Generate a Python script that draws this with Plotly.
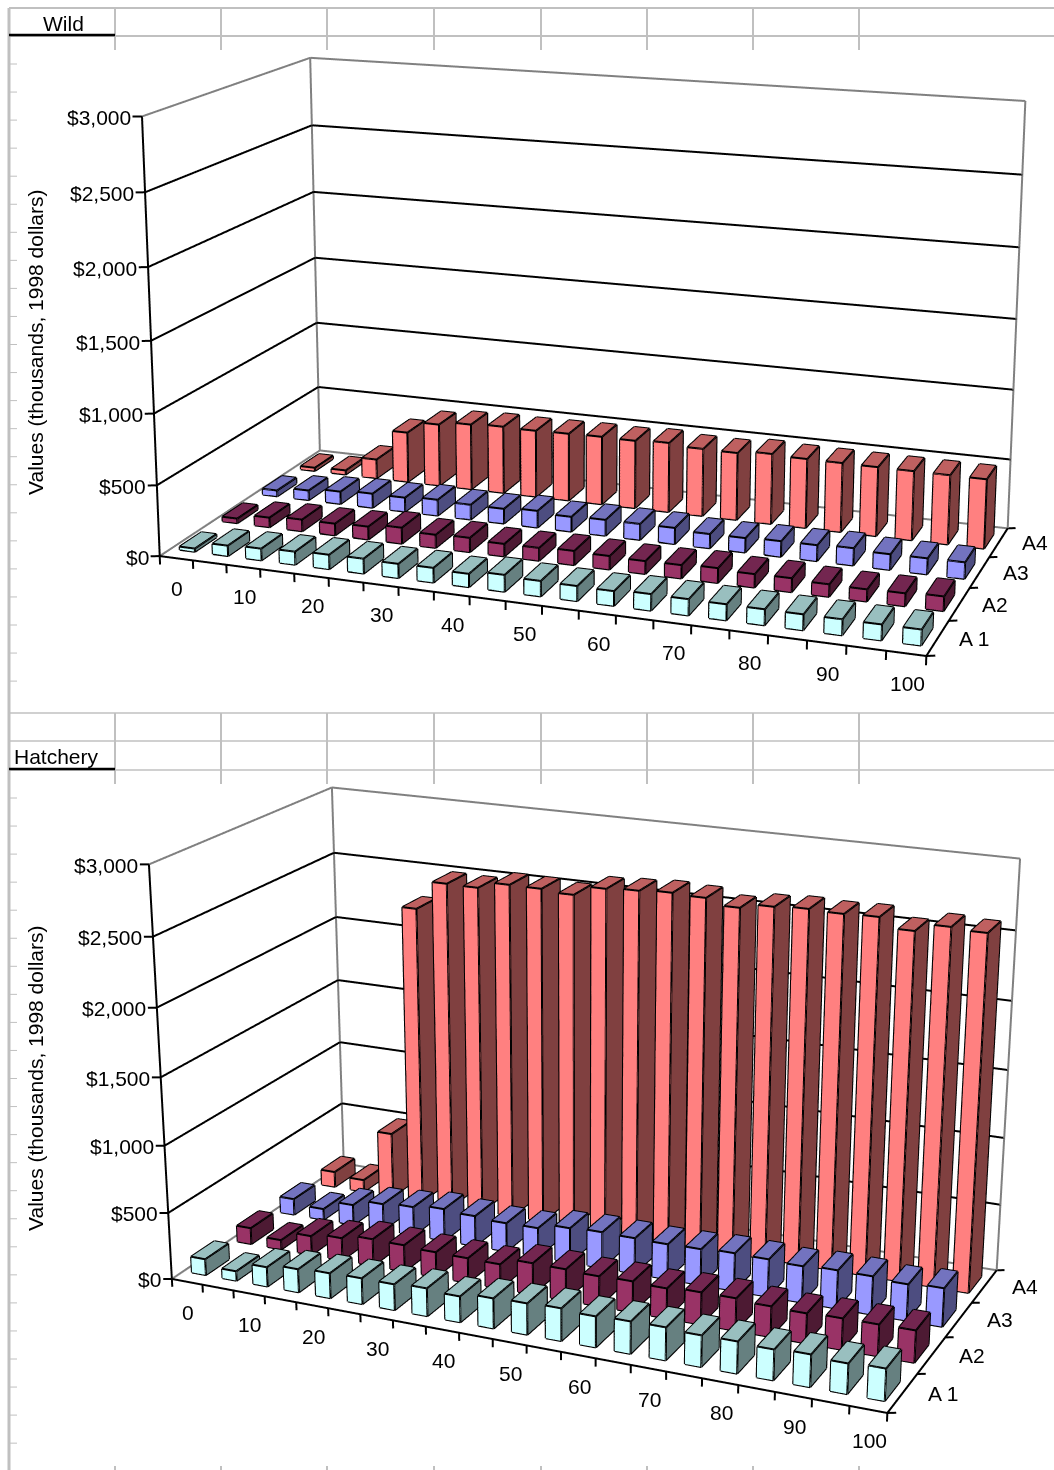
import numpy as np
import plotly.graph_objects as go

ages = list(range(0, 105, 5))
series = ["A1", "A2", "A3", "A4"]
z_ticks = [0, 500, 1000, 1500, 2000, 2500, 3000]
z_labels = ["$0", "$500", "$1,000", "$1,500", "$2,000", "$2,500", "$3,000"]
x_labels = ["0", "10", "20", "30", "40", "50", "60", "70", "80", "90", "100"]

wild_a1 = [23, 74, 83, 92, 101, 104, 99, 102, 92, 116, 106, 103, 100, 112, 110, 108, 107, 106, 106, 105, 105]
wild_a2 = [34, 70, 85, 85, 93, 115, 94, 102, 89, 91, 100, 95, 90, 93, 103, 93, 96, 86, 83, 88, 99]
wild_a3 = [44, 72, 92, 105, 104, 117, 109, 108, 122, 108, 115, 115, 116, 102, 103, 111, 113, 122, 110, 112, 115]
wild_a4 = [25, 32, 143, 375, 462, 488, 498, 494, 498, 502, 499, 510, 493, 490, 510, 501, 499, 497, 496, 495, 494]
hatch_a1 = [121, 72, 146, 174, 187, 193, 192, 206, 191, 221, 229, 238, 225, 234, 237, 226, 229, 219, 231, 215, 227]
hatch_a2 = [124, 72, 145, 171, 205, 201, 190, 187, 184, 235, 233, 224, 230, 222, 237, 238, 224, 218, 227, 229, 232]
hatch_a3 = [124, 85, 157, 205, 222, 247, 233, 219, 222, 263, 274, 270, 266, 271, 283, 280, 271, 284, 283, 268, 283]
hatch_a4 = [121, 94, 505, 2286, 2501, 2498, 2547, 2545, 2528, 2599, 2612, 2625, 2616, 2573, 2608, 2621, 2614, 2621, 2552, 2609, 2596]

wild = [wild_a1, wild_a2, wild_a3, wild_a4]
hatch = [hatch_a1, hatch_a2, hatch_a3, hatch_a4]
front_cols = ["#CCFFFF", "#993366", "#9999FF", "#FF8080"]
top_cols = ["#99BFBF", "#732650", "#7373BF", "#BF6060"]
side_cols = ["#668080", "#4D1A33", "#4D4D80", "#804040"]

W, H = 1054, 1470
OFFSET = 822
FIG_H = 3062
SCENE_H = 2240
SCENE_LEFT = 102

T = np.array([21.0, 4.0, 3000.0])
LO = np.array([-1.0, -0.5, -300.0])
HI = np.array([22.0, 4.5, 3100.0])

cam_wild = dict(eye=(2.104, -5.870, 1.663), center=(-0.181, 0.412, -0.036), up=0.001, aspect=(1.872, 0.896, 1.070))
cam_hatch = dict(eye=(1.610, -3.646, 1.359), center=(0.013, -0.060, -0.055), up=0.0, aspect=(1.191, 0.569, 0.679))


def py(y):
    return 1 - (y + OFFSET) / FIG_H


def scene_layout(cam, top):
    a = np.array(cam["aspect"])
    E, C = np.array(cam["eye"]), np.array(cam["center"])
    off = a * ((LO + HI) / (2 * T) - 0.5)
    a2 = a * (HI - LO) / T
    E2, C2 = E - off, C - off
    noax = dict(visible=False, showgrid=False, zeroline=False, showspikes=False)
    return dict(
        domain=dict(x=[SCENE_LEFT / W, 1], y=[py(top + SCENE_H), py(top)]),
        xaxis=dict(range=[LO[0], HI[0]], **noax),
        yaxis=dict(range=[LO[1], HI[1]], **noax),
        zaxis=dict(range=[LO[2], HI[2]], **noax),
        aspectmode="manual",
        aspectratio=dict(x=a2[0], y=a2[1], z=a2[2]),
        camera=dict(eye=dict(x=E2[0], y=E2[1], z=E2[2]),
                    center=dict(x=C2[0], y=C2[1], z=C2[2]),
                    up=dict(x=cam["up"], y=0, z=1),
                    projection=dict(type="perspective")),
        bgcolor="rgba(0,0,0,0)",
    )


def lines(segs, color, width, scene, name):
    xs, ys, zs = [], [], []
    for a, b in segs:
        xs += [a[0], b[0], None]; ys += [a[1], b[1], None]; zs += [a[2], b[2], None]
    return go.Scatter3d(x=xs, y=ys, z=zs, mode="lines", line=dict(color=color, width=width),
                        scene=scene, showlegend=False, hoverinfo="skip", name=name)


BW, BD = 0.46, 0.5
LW = 4


def bars(values, j, scene):
    vx, vy, vz, I, J, K, fc, segs = [], [], [], [], [], [], [], []
    for i, v in enumerate(values):
        x0, x1 = i + .5 - BW / 2, i + .5 + BW / 2
        y0, y1 = j + .5 - BD / 2, j + .5 + BD / 2
        c = [(x0,y0,0),(x1,y0,0),(x1,y1,0),(x0,y1,0),(x0,y0,v),(x1,y0,v),(x1,y1,v),(x0,y1,v)]
        n = len(vx)
        for q in c:
            vx.append(q[0]); vy.append(q[1]); vz.append(q[2])
        faces = [((0,1,5,4),front_cols[j]),((1,2,6,5),side_cols[j]),((4,5,6,7),top_cols[j]),
                 ((3,2,6,7),side_cols[j]),((0,3,7,4),side_cols[j])]
        for (a,b,c_,d),col in faces:
            I += [n+a, n+a]; J += [n+b, n+c_]; K += [n+c_, n+d]; fc += [col, col]
        for a,b in [(0,1),(1,2),(0,4),(1,5),(2,6),(4,5),(5,6),(6,7),(7,4)]:
            segs.append((c[a], c[b]))
    mesh = go.Mesh3d(x=vx, y=vy, z=vz, i=I, j=J, k=K, facecolor=fc, flatshading=True,
                     lighting=dict(ambient=1, diffuse=0, specular=0, roughness=1, fresnel=0),
                     scene=scene, hoverinfo="skip", showlegend=False, name=series[j])
    return [mesh, lines(segs, "#000000", LW, scene, series[j] + " edges")]


def frame(scene):
    Z = 3000
    grey = [((0,0,0),(0,4,0)),((0,4,0),(21,4,0)),((0,4,0),(0,4,Z)),((21,4,0),(21,4,Z)),
            ((0,0,Z),(0,4,Z)),((0,4,Z),(21,4,Z))]
    black = [((0,0,0),(21,0,0)),((21,0,0),(21,4,0)),((0,0,0),(0,0,Z))]
    for v in z_ticks[1:-1]:
        black += [((0,0,v),(0,4,v)),((0,4,v),(21,4,v))]
    for v in z_ticks:
        black.append(((0,0,v),(-.22,-.04,v)))
    for i in range(22):
        black.append(((i,0,0),(i,0,-60)))
    for j in range(5):
        black.append(((21,j,0),(21.2,j+.04,0)))
    return [lines(grey, "#808080", LW, scene, "walls"), lines(black, "#000000", LW, scene, "grid")]


FONT = dict(family="Liberation Sans, Arial, sans-serif", size=21, color="#000000")


def scene_annotations(xs_shift, ys_shift):
    out = []
    for v, t in zip(z_ticks, z_labels):
        out.append(dict(x=-.22, y=-.04, z=v, text=t, showarrow=False, xanchor="right", yanchor="middle",
                        xshift=0, yshift=-1, font=FONT))
    for k, t in enumerate(x_labels):
        out.append(dict(x=2 * k + .5, y=0, z=0, text=t, showarrow=False, xanchor="center", yanchor="middle",
                        xshift=1, yshift=ys_shift, font=FONT))
    for j, t in enumerate(series):
        out.append(dict(x=21, y=j + .5, z=0, text=t.replace("A1", "A 1"), showarrow=False, xanchor="center",
                        yanchor="middle", xshift=xs_shift, font=FONT))
    return out


fig = go.Figure()
for name, data in (("scene", wild), ("scene2", hatch)):
    fig.add_traces(frame(name))
    for j in range(4):
        fig.add_traces(bars(data[j], j, name))

GRID = "#C0C0C0"
shapes = []


def seg(x0, y0, x1, y1, col=GRID, w=2):
    shapes.append(dict(type="line", xref="paper", yref="paper", x0=x0 / W, x1=x1 / W,
                       y0=py(y0), y1=py(y1), line=dict(color=col, width=w), layer="below"))


COLS = [115, 221, 327, 434, 541, 647, 753, 859]
seg(9, 8, 9, 1470, w=3)
for y in (8, 36, 713, 741, 770):
    seg(9, y, W, y, w=2 if y in (8, 36) else 1.5)
for x in COLS:
    seg(x, 8, x, 50, w=2)
    seg(x, 713, x, 784, w=2)
    seg(x, 1466, x, 1470, w=2)
for k in range(23):
    seg(9, 64 + 28.05 * k, 17, 64 + 28.05 * k, w=1)
for k in range(24):
    seg(9, 798 + 28.05 * k, 17, 798 + 28.05 * k, w=1)
seg(9, 35, 115, 35, "#000000", 2.5)
seg(9, 769, 115, 769, "#000000", 2.5)

paper = [
    dict(x=63 / W, y=py(23), text="Wild", textangle=0),
    dict(x=56 / W, y=py(756), text="Hatchery", textangle=0),
    dict(x=35 / W, y=py(343), text="Values (thousands, 1998 dollars)", textangle=-90),
    dict(x=35 / W, y=py(1079), text="Values (thousands, 1998 dollars)", textangle=-90),
]
annos = [dict(xref="paper", yref="paper", showarrow=False, xanchor="center", yanchor="middle", font=FONT, **a)
         for a in paper]

fig.update_layout(
    width=W, height=FIG_H, margin=dict(l=0, r=0, t=0, b=0, pad=0), showlegend=False,
    paper_bgcolor="white", plot_bgcolor="white", shapes=shapes, annotations=annos,
    scene=dict(scene_layout(cam_wild, -OFFSET), annotations=scene_annotations(36, -30)),
    scene2=dict(scene_layout(cam_hatch, 0), annotations=scene_annotations(41, -31)),
)
post = ("var gd=document.querySelector('.plotly-graph-div');"
        "document.documentElement.style.cssText='margin:0;overflow:hidden;height:%dpx';"
        "document.body.style.cssText='margin:0;overflow:hidden;height:%dpx';"
        "gd.style.marginTop='-%dpx';" % (H, H, OFFSET))
fig.write_html("out.html", include_plotlyjs=True, config={"displayModeBar": False}, post_script=post)
